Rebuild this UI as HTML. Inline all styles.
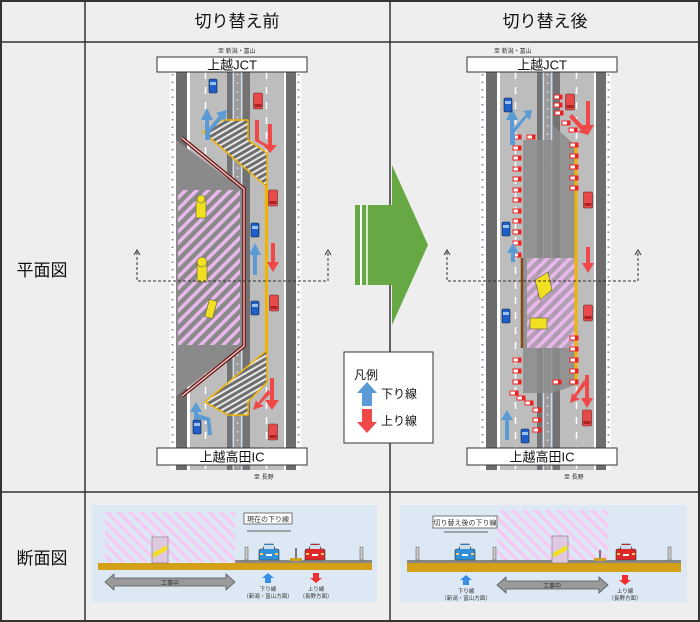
<!DOCTYPE html>
<html><head><meta charset="utf-8"><style>
html,body{margin:0;padding:0;background:#fff}
svg{display:block}
text{font-family:"Liberation Sans","Noto Sans CJK JP",sans-serif}
</style></head><body>
<svg width="700" height="622" viewBox="0 0 700 622" xmlns="http://www.w3.org/2000/svg">
<defs>
<pattern id="pk" width="8" height="8" patternUnits="userSpaceOnUse" patternTransform="rotate(45)">
<rect width="8" height="8" fill="none"/><rect width="3.5" height="8" fill="#e9b8ec"/></pattern>
<pattern id="pk2" width="8" height="8" patternUnits="userSpaceOnUse" patternTransform="rotate(-45)">
<rect width="3.5" height="8" fill="#f6c9f4"/></pattern>
<pattern id="zb" width="5" height="5" patternUnits="userSpaceOnUse" patternTransform="rotate(-30)">
<rect width="5" height="5" fill="#6e6e6e"/><rect width="5" height="2" fill="#e8e8e8"/></pattern>
<g id="road">
<rect x="170" y="72" width="131" height="398" fill="#fff"/>
<line x1="172.5" y1="74" x2="172.5" y2="470" stroke="#7d90a8" stroke-width="2" stroke-dasharray="1.5 6"/>
<line x1="298.5" y1="74" x2="298.5" y2="470" stroke="#7d90a8" stroke-width="2" stroke-dasharray="1.5 6"/>
<rect x="176" y="72" width="11" height="398" fill="#6d6d6d"/>
<rect x="190" y="72" width="37" height="398" fill="#bdbdbd"/>
<rect x="227" y="72" width="23" height="398" fill="#737373"/>
<rect x="232" y="72" width="11" height="398" fill="#9a9a9a"/>
<line x1="233.5" y1="72" x2="233.5" y2="470" stroke="#cfe0f0" stroke-width="1.2"/>
<line x1="241.5" y1="72" x2="241.5" y2="470" stroke="#cfe0f0" stroke-width="1.2"/>
<line x1="237.5" y1="74" x2="237.5" y2="470" stroke="#e0e0e0" stroke-width="1.5" stroke-dasharray="1.5 7"/>
<rect x="250" y="72" width="34" height="398" fill="#bdbdbd"/>
<rect x="286" y="72" width="10" height="398" fill="#6d6d6d"/>
<line x1="205.5" y1="72" x2="205.5" y2="470" stroke="#fff" stroke-width="1.5" stroke-dasharray="7 8"/>
<line x1="266.5" y1="72" x2="266.5" y2="470" stroke="#fff" stroke-width="1.5" stroke-dasharray="7 8"/>
</g>
<g id="cb"><rect x="-4" y="-7" width="8" height="14" rx="1.5" fill="#1f5fc9" stroke="#123" stroke-width=".6"/><rect x="-3" y="-4" width="6" height="3" fill="#9cc3f0"/></g>
<g id="cr"><rect x="-4.5" y="-8" width="9" height="16" rx="1.5" fill="#e84a4a" stroke="#622" stroke-width=".6"/><rect x="-3.5" y="3" width="7" height="3" fill="#a22"/></g>
<g id="cone"><rect x="-4" y="-2" width="8" height="4" fill="#fff" stroke="#e22" stroke-width="1"/><rect x="1" y="-2" width="3" height="4" fill="#e22"/></g>
<g id="scar"><path d="M-10 0 v-9 q0-2 2-2 h2 l2-5 h8 l2 5 h2 q2 0 2 2 v9 z" fill="currentColor" stroke="#333" stroke-width=".6"/><rect x="-5" y="-15" width="10" height="4" fill="#cde"/><rect x="-9" y="-7" width="3" height="2" fill="#fc6"/><rect x="6" y="-7" width="3" height="2" fill="#fc6"/><rect x="-3" y="-6" width="6" height="2" fill="#fff"/></g>
</defs>

<!-- table background -->
<rect x="0" y="0" width="700" height="622" fill="#eeeeee"/>
<rect x="1" y="1" width="698" height="620" fill="none" stroke="#333" stroke-width="2"/>
<line x1="85" y1="0" x2="85" y2="622" stroke="#333" stroke-width="1.5"/>
<line x1="390" y1="0" x2="390" y2="622" stroke="#333" stroke-width="1.5"/>
<line x1="0" y1="42" x2="700" y2="42" stroke="#333" stroke-width="1.5"/>
<line x1="0" y1="492" x2="700" y2="492" stroke="#333" stroke-width="1.5"/>
<text x="237" y="27" font-size="17" text-anchor="middle" fill="#111">切り替え前</text>
<text x="545" y="27" font-size="17" text-anchor="middle" fill="#111">切り替え後</text>
<text x="42" y="276" font-size="17" text-anchor="middle" fill="#111">平面図</text>
<text x="42" y="564" font-size="17" text-anchor="middle" fill="#111">断面図</text>

<!-- ============ LEFT PLAN ============ -->
<use href="#road"/>
<!-- closed area -->
<polygon points="176,140 243,190 243,345 176,396" fill="#8a8a8a"/>
<rect x="178" y="190" width="62" height="155" fill="url(#pk)"/>
<polyline points="182,138 244,189 244,346 182,396" fill="none" stroke="#7a1f1f" stroke-width="4"/>
<polyline points="182,138 244,189 244,346 182,396" fill="none" stroke="#fff" stroke-width="1"/>
<!-- zebra -->
<polygon points="203,132 222,120 248,120 248,140 267,153 267,187" fill="url(#zb)" stroke="#f2b400" stroke-width="1.5"/>
<polygon points="205,402 228,415 248,415 248,402 267,382 267,350" fill="url(#zb)" stroke="#f2b400" stroke-width="1.5"/>
<line x1="266.5" y1="187" x2="266.5" y2="350" stroke="#f2b400" stroke-width="3"/>
<!-- arrows -->
<g fill="#5b9bd5">
<polygon points="205,140 205,120 201,120 207,108 213,120 209,120 209,128 219,116 216,113 227,110 225,121 222,119 210,132 210,140"/>
<polygon points="253,275 253,255 249,255 255,243 261,255 257,255 257,275"/>
<polygon points="194,430 194,412 190,412 196,402 202,412 198,412 198,414 210,418 212,435 208,435 207,421 198,419 198,430"/>
</g>
<g fill="#f04848">
<polygon points="255,120 259,120 259,140 268,145 268,124 272,124 272,145 277,145 270,153 263,145 266,145 266,147 255,141"/>
<polygon points="271,243 275,243 275,262 279,262 273,272 267,262 271,262"/>
<polygon points="270,378 274,378 274,400 279,400 272,410 265,400 270,400"/>
<polygon points="268,390 271,393 260,404 264,406 253,410 256,400 258,403"/>
</g>
<use href="#cb" x="213" y="86"/><use href="#cr" x="258" y="101"/>
<use href="#cr" x="273" y="198"/><use href="#cb" x="255" y="230"/>
<use href="#cb" x="255" y="308"/><use href="#cr" x="274" y="303"/>
<use href="#cb" x="197" y="427"/><use href="#cr" x="273" y="432"/>
<!-- machines -->
<g fill="#f0e020" stroke="#555" stroke-width=".6">
<rect x="196" y="200" width="10" height="18"/><circle cx="201" cy="199" r="4"/>
<rect x="197" y="262" width="10" height="20"/><circle cx="202" cy="262" r="5"/>
<rect x="207" y="300" width="8" height="18" transform="rotate(15 211 309)"/>
</g>
<!-- labels -->
<text x="218" y="53" font-size="6" fill="#333">至 新潟・富山</text>
<rect x="157" y="57" width="150" height="15" fill="#fff" stroke="#333" stroke-width="1"/>
<text x="232" y="69.5" font-size="13" text-anchor="middle" fill="#111">上越JCT</text>
<rect x="157" y="448" width="150" height="17" fill="#fff" stroke="#333" stroke-width="1"/>
<text x="232" y="461.5" font-size="13" text-anchor="middle" fill="#111">上越高田IC</text>
<text x="254" y="479" font-size="6" fill="#333">至 長野</text>
<!-- dashed line -->
<g stroke="#333" stroke-width="1" stroke-dasharray="3 2" fill="none">
<polyline points="137,252 137,281 328,281 328,252"/></g>
<g fill="none" stroke="#333" stroke-width="1"><polyline points="134,255 137,250 140,255"/><polyline points="325,255 328,250 331,255"/></g>

<!-- ============ RIGHT PLAN ============ -->
<use href="#road" x="310"/>
<polygon points="523,140 553,140 553,125 575,145 575,385 553,393 523,393" fill="#8c8c8c" opacity=".85"/>
<rect x="527" y="258" width="48" height="90" fill="#c9a9c9" opacity=".6"/>
<rect x="527" y="258" width="48" height="90" fill="url(#pk)"/>
<line x1="522" y1="258" x2="522" y2="348" stroke="#8b4513" stroke-width="2.5"/>
<line x1="576" y1="145" x2="576" y2="385" stroke="#f2b400" stroke-width="3"/>
<g>
<use href="#cone" x="517" y="137"/><use href="#cone" x="531" y="137"/><use href="#cone" x="517" y="148"/><use href="#cone" x="517" y="158"/><use href="#cone" x="517" y="169"/><use href="#cone" x="517" y="179"/><use href="#cone" x="517" y="190"/><use href="#cone" x="517" y="200"/><use href="#cone" x="517" y="211"/><use href="#cone" x="517" y="221"/><use href="#cone" x="517" y="232"/><use href="#cone" x="517" y="243"/><use href="#cone" x="517" y="255"/>
<use href="#cone" x="517" y="360"/><use href="#cone" x="517" y="371"/><use href="#cone" x="517" y="382"/>
<use href="#cone" x="514" y="393"/><use href="#cone" x="521" y="398"/><use href="#cone" x="529" y="403"/><use href="#cone" x="537" y="410"/><use href="#cone" x="537" y="420"/><use href="#cone" x="537" y="430"/>
<use href="#cone" x="558" y="97"/><use href="#cone" x="558" y="105"/><use href="#cone" x="559" y="113"/><use href="#cone" x="566" y="123"/><use href="#cone" x="573" y="130"/>
<use href="#cone" x="574" y="145"/><use href="#cone" x="574" y="156"/><use href="#cone" x="574" y="167"/><use href="#cone" x="574" y="178"/><use href="#cone" x="574" y="188"/>
<use href="#cone" x="574" y="338"/><use href="#cone" x="574" y="349"/><use href="#cone" x="574" y="360"/><use href="#cone" x="574" y="371"/><use href="#cone" x="574" y="382"/><use href="#cone" x="557" y="382"/>
</g>
<g fill="#5b9bd5">
<polygon points="510,145 510,120 506,120 512,108 518,120 514,120 514,128 526,114 523,111 532,110 530,120 527,117 515,132 515,145"/>
<polygon points="511,262 511,253 507,253 513,243 519,253 515,253 515,262"/>
<polygon points="505,440 505,420 501,420 507,410 513,420 509,420 509,440"/>
</g>
<g fill="#f04848">
<polygon points="586,101 590,101 590,125 594,125 588,135 582,125 586,125"/>
<polygon points="569,117 572,114 584,127 586,124 588,135 578,132 581,130"/>
<polygon points="586,247 590,247 590,263 594,263 588,273 582,263 586,263"/>
<polygon points="585,375 589,375 589,398 593,398 587,408 581,398 585,398"/>
<polygon points="584,380 587,383 576,397 580,399 570,403 572,393 574,395"/>
</g>
<use href="#cb" x="508" y="105"/><use href="#cr" x="570" y="102"/>
<use href="#cb" x="506" y="229"/><use href="#cr" x="588" y="200"/>
<use href="#cb" x="506" y="316"/><use href="#cr" x="588" y="313"/>
<use href="#cb" x="525" y="436"/><use href="#cr" x="587" y="418"/>
<g fill="#f0e020" stroke="#555" stroke-width=".6">
<polygon points="535,280 548,272 552,290 540,300"/>
<rect x="530" y="318" width="17" height="11"/>
</g>
<text x="494" y="53" font-size="6" fill="#333">至 新潟・富山</text>
<rect x="467" y="57" width="150" height="15" fill="#fff" stroke="#333" stroke-width="1"/>
<text x="542" y="69.5" font-size="13" text-anchor="middle" fill="#111">上越JCT</text>
<rect x="467" y="448" width="150" height="17" fill="#fff" stroke="#333" stroke-width="1"/>
<text x="542" y="461.5" font-size="13" text-anchor="middle" fill="#111">上越高田IC</text>
<text x="564" y="479" font-size="6" fill="#333">至 長野</text>
<g stroke="#333" stroke-width="1" stroke-dasharray="3 2" fill="none">
<polyline points="447,252 447,281 638,281 638,252"/></g>
<g fill="none" stroke="#333" stroke-width="1"><polyline points="444,255 447,250 450,255"/><polyline points="635,255 638,250 641,255"/></g>

<!-- green arrow -->
<polygon points="355,205 392,205 392,165 428,245 392,325 392,285 355,285" fill="#65a844"/>
<line x1="361" y1="205" x2="361" y2="285" stroke="#fff" stroke-width="2"/>
<line x1="367" y1="205" x2="367" y2="285" stroke="#fff" stroke-width="1.5"/>

<!-- legend -->
<rect x="344" y="352" width="89" height="91" fill="#fff" stroke="#333" stroke-width="1"/>
<text x="354" y="379" font-size="12" fill="#111">凡例</text>
<polygon points="367,382 377,393 372,393 372,406 362,406 362,393 357,393" fill="#5b9bd5"/>
<polygon points="362,409 372,409 372,422 377,422 367,433 357,422 362,422" fill="#f04848"/>
<text x="381" y="398" font-size="12" fill="#111">下り線</text>
<text x="381" y="425" font-size="12" fill="#111">上り線</text>

<!-- ============ LEFT SECTION ============ -->
<rect x="92" y="505" width="285" height="97" fill="#dce9f5"/>
<rect x="105" y="512" width="130" height="50" fill="url(#pk2)"/>
<rect x="235" y="560" width="137" height="3" fill="#888"/>
<rect x="98" y="563" width="274" height="7" fill="#d4a017"/>
<rect x="152" y="537" width="16" height="26" fill="#e0c8e0" stroke="#777" stroke-width=".6"/>
<polygon points="153,553 167,545 167,550 153,558" fill="#f0e020"/>
<polygon points="105,582 114,574 114,578 226,578 226,574 235,582 226,590 226,586 114,586 114,590" fill="#9a9a9a" stroke="#555" stroke-width=".8"/>
<text x="170" y="585" font-size="6" text-anchor="middle" fill="#333">工事中</text>
<rect x="244" y="513" width="48" height="11" fill="#fff" stroke="#555" stroke-width=".8"/>
<text x="268" y="521.5" font-size="7" text-anchor="middle" fill="#333">現在の下り線</text>
<line x1="247" y1="531" x2="291" y2="531" stroke="#333" stroke-width=".7"/>
<use href="#scar" x="269" y="560" color="#2f8fd8"/>
<use href="#scar" x="315" y="560" color="#e02828"/>
<rect x="245" y="547" width="3" height="13" fill="#ccc" stroke="#555" stroke-width=".5"/>
<rect x="360" y="547" width="3" height="13" fill="#ccc" stroke="#555" stroke-width=".5"/>
<rect x="290" y="558" width="12" height="3" fill="#d4a017"/><rect x="295" y="548" width="2" height="10" fill="#777"/>
<polygon points="268,573 274,578 271,578 271,583 265,583 265,578 262,578" fill="#3a8ee6"/>
<polygon points="313,573 319,573 319,578 322,578 316,583 310,578 313,578" fill="#f03030"/>
<text x="268" y="591" font-size="5.5" text-anchor="middle" fill="#333">下り線</text>
<text x="268" y="598" font-size="5.5" text-anchor="middle" fill="#333">（新潟・富山方面）</text>
<text x="316" y="591" font-size="5.5" text-anchor="middle" fill="#333">上り線</text>
<text x="316" y="598" font-size="5.5" text-anchor="middle" fill="#333">（長野方面）</text>

<!-- ============ RIGHT SECTION ============ -->
<rect x="400" y="505" width="287" height="97" fill="#dce9f5"/>
<rect x="497" y="510" width="111" height="52" fill="url(#pk2)"/>
<rect x="407" y="560" width="274" height="3" fill="#888"/>
<rect x="407" y="563" width="274" height="9" fill="#d4a017"/>
<rect x="552" y="536" width="16" height="27" fill="#e0c8e0" stroke="#777" stroke-width=".6"/>
<polygon points="553,553 567,545 567,550 553,558" fill="#f0e020"/>
<polygon points="497,585 506,577 506,581 599,581 599,577 608,585 599,593 599,589 506,589 506,593" fill="#9a9a9a" stroke="#555" stroke-width=".8"/>
<text x="552" y="588" font-size="6" text-anchor="middle" fill="#333">工事中</text>
<rect x="433" y="516" width="64" height="12" fill="#fff" stroke="#555" stroke-width=".8"/>
<text x="465" y="525" font-size="7" text-anchor="middle" fill="#333">切り替え後の下り線</text>
<line x1="444" y1="532" x2="488" y2="532" stroke="#333" stroke-width=".7"/>
<use href="#scar" x="465" y="560" color="#2f8fd8"/>
<use href="#scar" x="626" y="560" color="#e02828"/>
<rect x="416" y="547" width="3" height="13" fill="#ccc" stroke="#555" stroke-width=".5"/>
<rect x="493" y="547" width="3" height="13" fill="#ccc" stroke="#555" stroke-width=".5"/>
<rect x="668" y="547" width="3" height="13" fill="#ccc" stroke="#555" stroke-width=".5"/>
<rect x="594" y="558" width="12" height="3" fill="#d4a017"/><rect x="599" y="550" width="2" height="8" fill="#777"/>
<polygon points="466,575 472,580 469,580 469,585 463,585 463,580 460,580" fill="#3a8ee6"/>
<polygon points="622,575 628,575 628,580 631,580 625,585 619,580 622,580" fill="#f03030"/>
<text x="466" y="593" font-size="5.5" text-anchor="middle" fill="#333">下り線</text>
<text x="466" y="600" font-size="5.5" text-anchor="middle" fill="#333">（新潟・富山方面）</text>
<text x="625" y="593" font-size="5.5" text-anchor="middle" fill="#333">上り線</text>
<text x="625" y="600" font-size="5.5" text-anchor="middle" fill="#333">（長野方面）</text>
</svg>
</body></html>
